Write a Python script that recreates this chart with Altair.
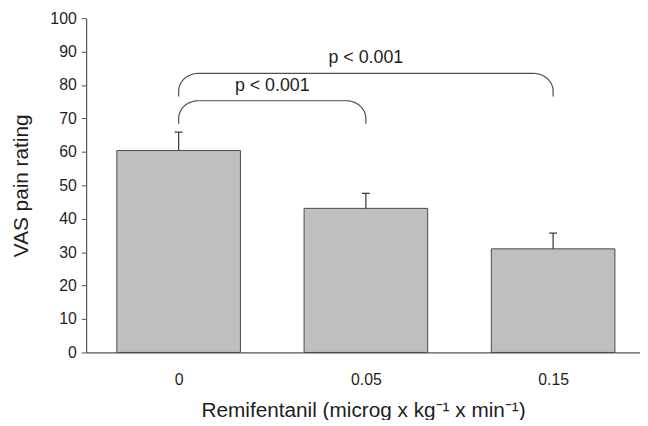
import json
import altair as alt
import numpy as np
import pandas as pd

# ---- data ----
doses = ["0", "0.05", "0.15"]
means = [60.4, 43.1, 31.0]
sems = [5.5, 4.5, 4.7]

cmp_from = [0, 0]
cmp_to = [1, 2]
cmp_top = [75.3, 83.5]
cmp_end = [68.4, 76.6]
cmp_label = ["p < 0.001", "p < 0.001"]

# ---- layout helpers ----
X_DOMAIN = [-0.494, 2.464]
Y_DOMAIN = [0, 100]
W, H = 560, 338
px_x = W / (X_DOMAIN[1] - X_DOMAIN[0])
px_y = H / (Y_DOMAIN[1] - Y_DOMAIN[0])
BAR_HALF = 0.33
CAP_HALF = 4 / px_x

pos = list(range(len(doses)))
bars = pd.DataFrame({"pos": pos, "dose": doses, "mean": means, "sem": sems})
bars["lo"] = bars["pos"] - BAR_HALF
bars["hi"] = bars["pos"] + BAR_HALF
bars["zero"] = 0.0
bars["top"] = bars["mean"] + bars["sem"]
bars["capl"] = bars["pos"] - CAP_HALF
bars["capr"] = bars["pos"] + CAP_HALF

# bracket paths with rounded ends
rx = 20 / px_x
ry = 18 / px_y
rows = []
for cid, (a, b, top, end) in enumerate(zip(cmp_from, cmp_to, cmp_top, cmp_end)):
    pts = [(a, end)]
    for t in np.linspace(np.pi, np.pi / 2, 12):
        pts.append((a + rx + rx * np.cos(t), top - ry + ry * np.sin(t)))
    for t in np.linspace(np.pi / 2, 0, 12):
        pts.append((b - rx + rx * np.cos(t), top - ry + ry * np.sin(t)))
    pts.append((b, end))
    for k, (x, y) in enumerate(pts):
        rows.append({"cid": cid, "k": k, "x": x, "y": y})
brackets = pd.DataFrame(rows)
labels = pd.DataFrame({
    "x": [(a + b) / 2 for a, b in zip(cmp_from, cmp_to)],
    "y": [t + 3.0 for t in cmp_top],
    "label": cmp_label,
})

FONT = "Liberation Sans"
AX = "#555555"
TXT = "#1e1e1e"

xscale = alt.Scale(domain=X_DOMAIN, nice=False, zero=False)
yscale = alt.Scale(domain=Y_DOMAIN, nice=False)

label_expr = json.dumps(doses) + "[datum.value]"

x_axis = alt.Axis(values=pos, labelExpr=label_expr, ticks=False, grid=False,
                  labelOverlap=False,
                  title="Remifentanil (microg x kg⁻¹ x min⁻¹)",
                  labelPadding=19, titlePadding=13)
y_axis = alt.Axis(values=list(range(0, 101, 10)), grid=False, tickSize=5,
                  labelOverlap=False, labelFlush=False,
                  title="VAS pain rating", labelPadding=5, titlePadding=19)

def X(f):
    return alt.X(f, type="quantitative", scale=xscale, axis=x_axis)

def Y(f):
    return alt.Y(f, type="quantitative", scale=yscale, axis=y_axis)

base = alt.Chart(bars)

bar_layer = base.mark_rect(fill="#bfbfbf", stroke="#4a4a4a", strokeWidth=1).encode(
    x=X("lo"), x2="hi:Q", y=Y("mean"), y2="zero:Q",
)
err_layer = base.mark_rule(color="#404040", strokeWidth=1.3).encode(
    x=X("pos"), y=Y("mean"), y2="top:Q"
)
cap_layer = base.mark_rule(color="#404040", strokeWidth=1.3).encode(
    x=X("capl"), x2="capr:Q", y=Y("top")
)
bracket_layer = alt.Chart(brackets).mark_line(color="#505050", strokeWidth=1.2).encode(
    x=X("x"), y=Y("y"), detail="cid:N", order="k:Q"
)
text_layer = alt.Chart(labels).mark_text(
    font=FONT, fontSize=18, color=TXT, baseline="alphabetic", align="center"
).encode(x=X("x"), y=Y("y"), text="label:N")

chart = alt.layer(bar_layer, err_layer, cap_layer, bracket_layer, text_layer).properties(
    width=W, height=H,
    autosize=alt.AutoSizeParams(type="none"),
    padding={"left": 79, "top": 8, "right": 0, "bottom": 66},
    background="white",
).configure_view(stroke=None).configure_axis(
    domainColor=AX, tickColor=AX, domainWidth=1.2,
    labelFont=FONT, labelFontSize=16, labelColor=TXT,
    titleFont=FONT, titleFontSize=21, titleFontWeight="normal", titleColor=TXT,
)

chart.save("out.html", embed_options={"renderer": "svg", "actions": False})
